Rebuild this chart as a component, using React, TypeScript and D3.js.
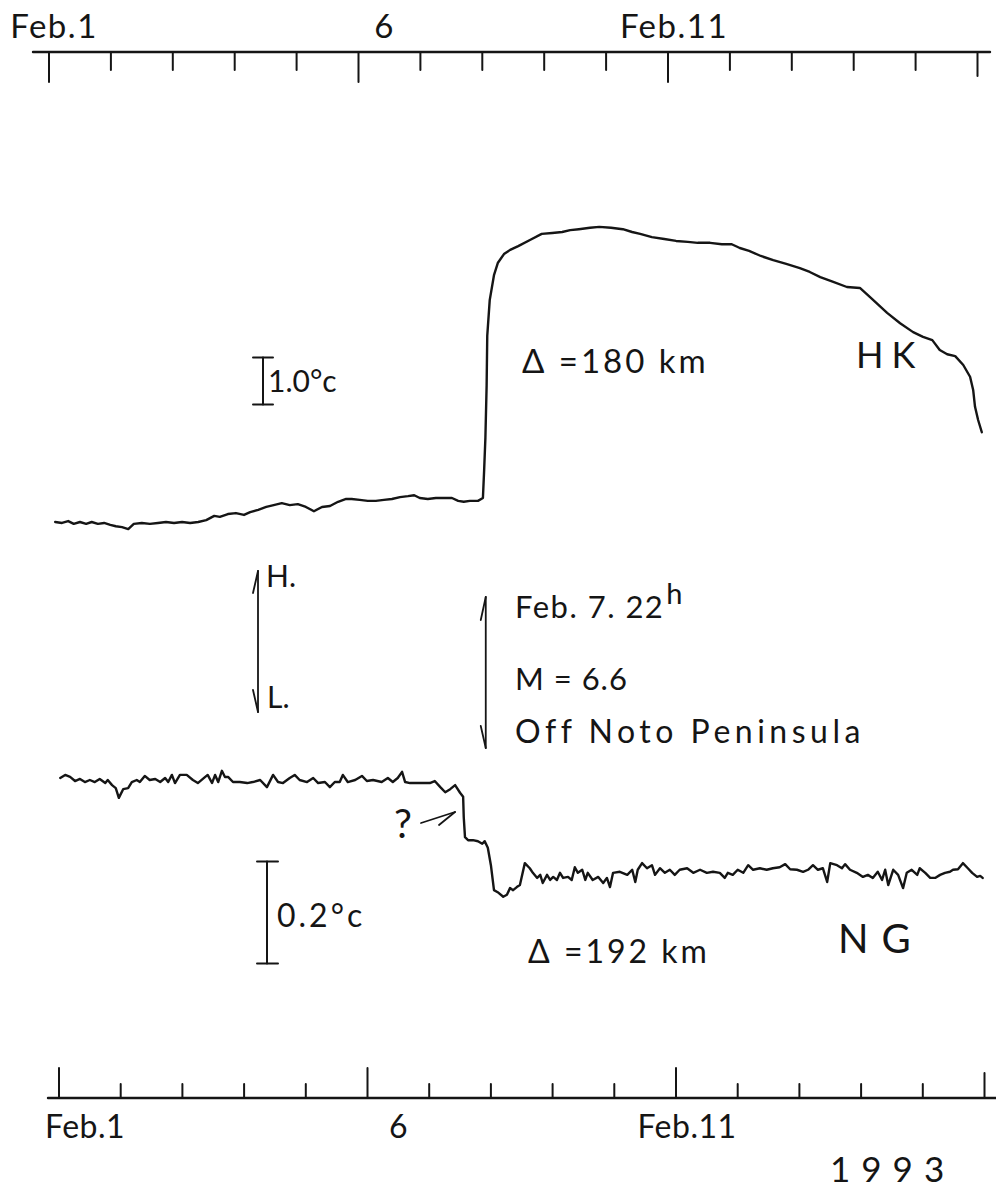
import * as d3 from "d3";

// days after Feb.1 00h
const dayTicks = [0, 1, 2, 3, 4, 5, 6, 7, 8, 9, 10, 11, 12, 13, 14, 15];
const majorDays = [0, 5, 10];
const tickLabels = ["Feb.1", "6", "Feb.11"];
const yearLabel = "1993";

// HK: water temperature, deg C relative to Feb.1
const hk: [number, number][] = [
  [0.10, 0.00], [0.21, -0.02], [0.31, 0.02], [0.40, -0.04], [0.50, 0.00], [0.60, -0.04],
  [0.69, 0.00], [0.79, -0.04], [0.89, -0.02], [0.99, -0.06], [1.08, -0.09], [1.18, -0.11],
  [1.28, -0.15], [1.37, -0.04], [1.50, -0.02], [1.63, -0.04], [1.76, -0.02], [1.89, 0.00],
  [2.02, -0.02], [2.15, 0.00], [2.28, -0.02], [2.41, 0.00], [2.54, 0.04], [2.67, 0.13],
  [2.76, 0.11], [2.89, 0.17], [3.02, 0.19], [3.15, 0.15], [3.25, 0.21], [3.38, 0.26],
  [3.51, 0.32], [3.63, 0.36], [3.76, 0.40], [3.89, 0.36], [4.02, 0.38], [4.15, 0.32],
  [4.28, 0.23], [4.41, 0.32], [4.54, 0.34], [4.67, 0.43], [4.80, 0.49], [4.89, 0.49],
  [5.02, 0.47], [5.15, 0.45], [5.28, 0.45], [5.41, 0.47], [5.54, 0.49], [5.67, 0.53],
  [5.80, 0.55], [5.90, 0.57], [5.99, 0.51], [6.12, 0.49], [6.25, 0.51], [6.38, 0.51],
  [6.51, 0.51], [6.61, 0.45], [6.70, 0.43], [6.80, 0.45], [6.93, 0.45], [7.01, 0.51],
  [7.03, 1.11], [7.05, 1.79], [7.07, 2.91], [7.08, 3.96], [7.12, 4.72], [7.19, 5.26],
  [7.25, 5.51], [7.35, 5.70], [7.45, 5.79], [7.58, 5.87], [7.77, 6.00], [7.96, 6.13],
  [8.13, 6.15], [8.29, 6.17], [8.42, 6.21], [8.56, 6.23], [8.74, 6.26], [8.89, 6.28],
  [9.08, 6.26], [9.27, 6.23], [9.42, 6.17], [9.55, 6.13], [9.74, 6.06], [9.94, 6.02],
  [10.13, 5.98], [10.32, 5.96], [10.48, 5.94], [10.68, 5.94], [10.87, 5.91], [11.03, 5.91],
  [11.16, 5.83], [11.31, 5.77], [11.50, 5.66], [11.70, 5.57], [11.91, 5.49], [12.13, 5.40],
  [12.29, 5.32], [12.46, 5.21], [12.67, 5.11], [12.89, 5.00], [13.10, 4.98], [13.26, 4.79],
  [13.54, 4.45], [13.75, 4.23], [13.96, 4.04], [14.12, 3.94], [14.27, 3.87], [14.39, 3.66],
  [14.51, 3.57], [14.64, 3.53], [14.77, 3.34], [14.88, 3.09], [14.93, 2.81], [14.96, 2.45],
  [15.01, 2.17], [15.07, 1.91],
];

// NG: water temperature, deg C relative to Feb.1
const ng: [number, number][] = [
  [0.02, 0.004], [0.10, 0.010], [0.18, 0.006], [0.26, -0.002], [0.34, 0.002], [0.42, -0.004],
  [0.50, 0.000], [0.58, -0.004], [0.66, 0.002], [0.75, -0.006], [0.79, 0.000], [0.86, -0.010],
  [0.92, -0.016], [0.97, -0.035], [1.04, -0.018], [1.12, -0.016], [1.18, -0.004], [1.26, 0.000],
  [1.31, -0.004], [1.39, 0.008], [1.47, 0.000], [1.56, 0.002], [1.64, -0.004], [1.72, 0.004],
  [1.77, -0.004], [1.83, 0.010], [1.88, -0.006], [1.96, 0.010], [2.07, 0.010], [2.17, 0.000],
  [2.25, -0.006], [2.37, 0.006], [2.41, 0.010], [2.48, -0.006], [2.53, 0.010], [2.58, -0.004],
  [2.64, 0.018], [2.69, 0.006], [2.74, 0.006], [2.82, -0.004], [2.93, -0.004], [3.05, -0.006],
  [3.14, -0.004], [3.26, 0.000], [3.37, -0.014], [3.47, 0.010], [3.55, -0.004], [3.63, -0.006],
  [3.74, 0.004], [3.82, 0.010], [3.90, 0.000], [4.02, -0.004], [4.12, 0.004], [4.20, -0.006],
  [4.31, -0.004], [4.39, -0.014], [4.47, -0.004], [4.55, -0.004], [4.60, 0.010], [4.68, -0.004],
  [4.80, 0.000], [4.91, 0.008], [4.99, -0.002], [5.09, 0.000], [5.23, -0.004], [5.33, 0.004],
  [5.41, -0.004], [5.49, 0.004], [5.56, 0.016], [5.61, -0.004], [5.69, -0.006], [5.80, -0.006],
  [5.90, -0.006], [6.01, -0.006], [6.09, -0.002], [6.18, -0.014], [6.26, -0.024], [6.34, -0.018],
  [6.42, -0.010], [6.50, -0.025], [6.55, -0.033], [6.56, -0.073], [6.58, -0.112], [6.63, -0.118],
  [6.71, -0.118], [6.79, -0.120], [6.86, -0.125], [6.90, -0.120], [6.95, -0.133], [7.00, -0.167],
  [7.05, -0.216], [7.11, -0.220], [7.20, -0.229], [7.26, -0.225], [7.31, -0.212], [7.36, -0.216],
  [7.42, -0.210], [7.47, -0.206], [7.55, -0.163], [7.63, -0.173], [7.68, -0.182], [7.75, -0.192],
  [7.80, -0.186], [7.84, -0.202], [7.91, -0.186], [7.96, -0.196], [8.01, -0.190], [8.07, -0.196],
  [8.12, -0.182], [8.17, -0.192], [8.25, -0.190], [8.31, -0.196], [8.36, -0.171], [8.41, -0.182],
  [8.48, -0.176], [8.53, -0.196], [8.57, -0.182], [8.65, -0.196], [8.74, -0.190], [8.82, -0.202],
  [8.88, -0.192], [8.93, -0.210], [8.98, -0.182], [9.09, -0.180], [9.21, -0.186], [9.29, -0.176],
  [9.34, -0.200], [9.38, -0.176], [9.45, -0.163], [9.53, -0.173], [9.61, -0.167], [9.66, -0.186],
  [9.74, -0.173], [9.82, -0.182], [9.90, -0.176], [9.98, -0.186], [10.06, -0.176], [10.18, -0.173],
  [10.28, -0.182], [10.39, -0.176], [10.50, -0.182], [10.60, -0.180], [10.71, -0.182], [10.79, -0.192],
  [10.84, -0.182], [10.92, -0.186], [11.00, -0.176], [11.09, -0.182], [11.17, -0.167], [11.25, -0.176],
  [11.36, -0.173], [11.47, -0.176], [11.57, -0.173], [11.68, -0.171], [11.77, -0.165], [11.85, -0.175],
  [11.96, -0.176], [12.06, -0.180], [12.14, -0.176], [12.22, -0.167], [12.30, -0.176], [12.38, -0.173],
  [12.45, -0.200], [12.50, -0.163], [12.61, -0.167], [12.69, -0.173], [12.74, -0.165], [12.82, -0.176],
  [12.93, -0.182], [13.03, -0.190], [13.11, -0.186], [13.19, -0.192], [13.27, -0.180], [13.34, -0.196],
  [13.39, -0.176], [13.44, -0.206], [13.52, -0.176], [13.60, -0.186], [13.68, -0.212], [13.74, -0.182],
  [13.82, -0.176], [13.91, -0.186], [13.95, -0.173], [14.04, -0.182], [14.12, -0.192], [14.20, -0.192],
  [14.28, -0.186], [14.36, -0.182], [14.44, -0.180], [14.49, -0.176], [14.57, -0.175], [14.65, -0.163],
  [14.73, -0.173], [14.80, -0.182], [14.88, -0.190], [14.93, -0.188], [14.97, -0.192],
];

const quakeDay = 6 + 22 / 24; // Feb.7 22h
const hkBar = [2.5, 3.5]; // 1.0 degC
const ngBar = [-0.36, -0.16]; // 0.2 degC

const W = 996;
const H = 1188;
const ink = "#151515";
const font = "'Lato', 'DejaVu Sans', sans-serif";

export default function App() {
  const xTop = d3.scaleLinear().domain([0, 15]).range([49, 977.5]);
  const xBot = d3.scaleLinear().domain([0, 15]).range([59, 984.5]);
  const yHK = d3.scaleLinear().domain([0, 1]).range([522, 475]);
  const yNG = d3.scaleLinear().domain([0, 0.2]).range([780, 678]);

  const hkLine = d3.line<[number, number]>().x(d => xTop(d[0])).y(d => yHK(d[1]));
  const ngLine = d3.line<[number, number]>().x(d => xBot(d[0])).y(d => yNG(d[1]));

  const topY = 52;
  const botY = 1098;
  const topLen = (d: number) => (majorDays.includes(d) ? 30 : d === 15 ? 24 : 18);
  const botLen = (d: number) => (majorDays.includes(d) ? 30 : d === 15 ? 25 : 14);
  // hand-lettered labels sit a little right of their ticks
  const topDx = [5, 26, 6];
  const botDx = [26, 31, 11];

  const txt = { fontFamily: font, fill: ink, fontWeight: 400 } as const;
  const qx = xBot(quakeDay);

  return (
    <svg width={W} height={H} style={{ position: "absolute", left: 0, top: 0, background: "#fff" }}>
      <g stroke={ink} fill="none" strokeLinecap="round">
        {/* top axis (HK) */}
        <line x1={33} x2={990} y1={topY} y2={topY} strokeWidth={2.4} />
        {dayTicks.map(d => (
          <line key={"t" + d} x1={xTop(d)} x2={xTop(d)} y1={topY} y2={topY + topLen(d)} strokeWidth={2} />
        ))}
        {/* bottom axis (NG) */}
        <line x1={48} x2={996} y1={botY} y2={botY} strokeWidth={2.4} />
        {dayTicks.map(d => (
          <line key={"b" + d} x1={xBot(d)} x2={xBot(d)} y1={botY} y2={botY - botLen(d)} strokeWidth={2} />
        ))}

        <path d={hkLine(hk) || ""} strokeWidth={2.4} strokeLinejoin="round" />
        <path d={ngLine(ng) || ""} strokeWidth={2.4} strokeLinejoin="round" />

        {/* scale bars */}
        <line x1={263} x2={263} y1={yHK(hkBar[0])} y2={yHK(hkBar[1])} strokeWidth={2} />
        <line x1={253} x2={273} y1={yHK(hkBar[0])} y2={yHK(hkBar[0])} strokeWidth={2} />
        <line x1={253} x2={273} y1={yHK(hkBar[1])} y2={yHK(hkBar[1])} strokeWidth={2} />
        <line x1={267} x2={267} y1={yNG(ngBar[0])} y2={yNG(ngBar[1])} strokeWidth={2} />
        <line x1={257} x2={278} y1={yNG(ngBar[0])} y2={yNG(ngBar[0])} strokeWidth={2} />
        <line x1={257} x2={278} y1={yNG(ngBar[1])} y2={yNG(ngBar[1])} strokeWidth={2} />

        {/* H / L arrow */}
        <line x1={258} x2={258} y1={571} y2={712} strokeWidth={1.8} />
        <line x1={258} x2={253} y1={571} y2={593} strokeWidth={1.8} />
        <line x1={258} x2={253} y1={712} y2={690} strokeWidth={1.8} />
        {/* earthquake arrow */}
        <line x1={qx} x2={qx} y1={597} y2={748} strokeWidth={1.8} />
        <line x1={qx} x2={qx - 5} y1={597} y2={620} strokeWidth={1.8} />
        <line x1={qx} x2={qx - 5} y1={748} y2={726} strokeWidth={1.8} />
        {/* ? arrow */}
        <line x1={421} x2={455} y1={823} y2={812} strokeWidth={1.8} />
        <line x1={455} x2={439} y1={812} y2={825} strokeWidth={1.8} />
      </g>

      {tickLabels.map((t, i) => (
        <text key={"tl" + t} {...txt} x={xTop(majorDays[i]) + topDx[i]} y={38} fontSize={33} textAnchor="middle" letterSpacing={1.5}>
          {t}
        </text>
      ))}
      {tickLabels.map((t, i) => (
        <text key={"bl" + t} {...txt} x={xBot(majorDays[i]) + botDx[i]} y={1138} fontSize={32} textAnchor="middle" letterSpacing={0.5}>
          {t}
        </text>
      ))}
      <text {...txt} x={830} y={1182} fontSize={35} letterSpacing={11}>{yearLabel}</text>

      <text {...txt} x={268} y={392} fontSize={30}>1.0°c</text>
      <text {...txt} x={522} y={373} fontSize={33} letterSpacing={3}>Δ =180 km</text>
      <text {...txt} x={856} y={368} fontSize={36} letterSpacing={8}>HK</text>

      <text {...txt} x={266} y={587} fontSize={30}>H.</text>
      <text {...txt} x={267} y={708} fontSize={30}>L.</text>

      <text {...txt} x={515} y={618} fontSize={31} letterSpacing={1.5}>
        Feb. 7. 22<tspan dx={2} dy={-14} fontSize={29}>h</tspan>
      </text>
      <text {...txt} x={515} y={690} fontSize={31} letterSpacing={1}>M = 6.6</text>
      <text {...txt} x={515} y={743} fontSize={32} letterSpacing={4.5}>Off Noto Peninsula</text>

      <text {...txt} x={394} y={838} fontSize={40}>?</text>
      <text {...txt} x={277} y={927} fontSize={32} letterSpacing={3}>0.2°c</text>
      <text {...txt} x={838} y={953} fontSize={40} letterSpacing={13}>NG</text>
      <text {...txt} x={528} y={963} fontSize={32} letterSpacing={3}>Δ =192 km</text>
    </svg>
  );
}
